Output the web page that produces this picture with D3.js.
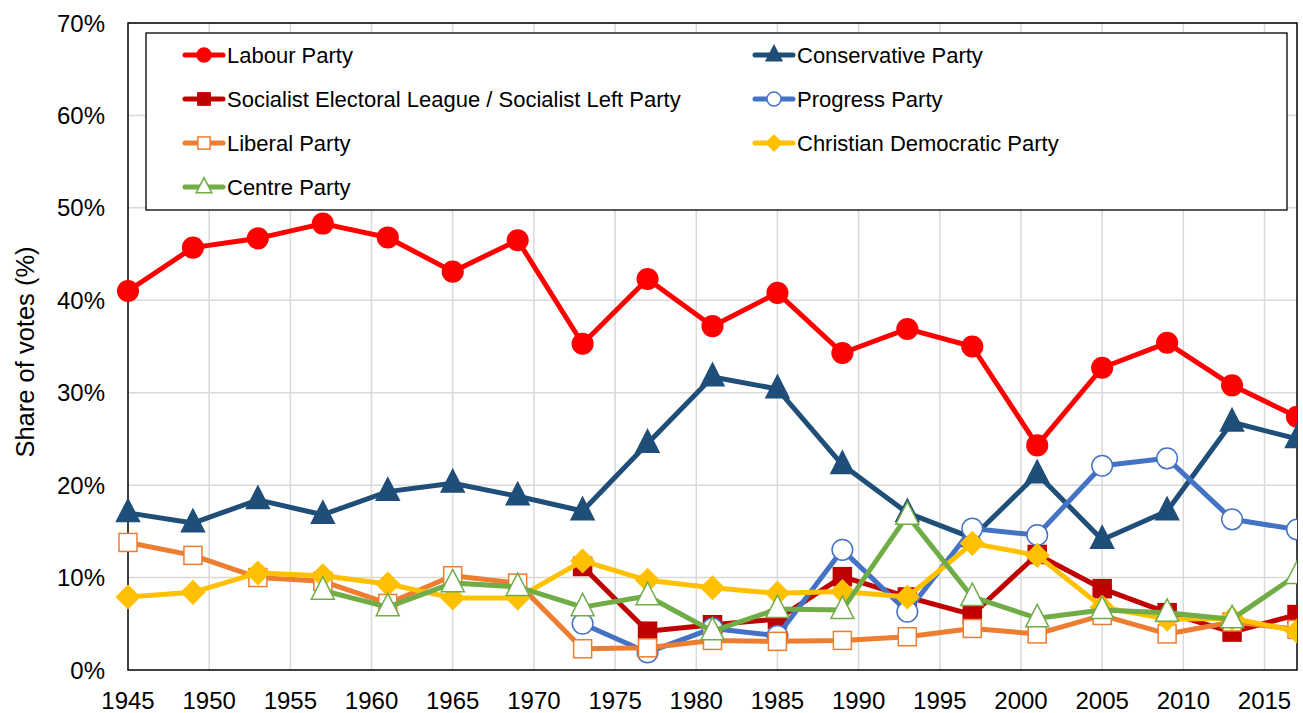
<!DOCTYPE html>
<html>
<head>
<meta charset="utf-8">
<script src="https://cdn.jsdelivr.net/npm/d3@7"></script>
<style>
  body { margin: 0; background: #fff; }
  svg { font-family: "Liberation Sans", Arial, sans-serif; }
</style>
</head>
<body>
<svg id="chart" width="1303" height="713"></svg>
<script>
// election years and vote shares (%)
var years = [1945, 1949, 1953, 1957, 1961, 1965, 1969, 1973, 1977, 1981, 1985, 1989, 1993, 1997, 2001, 2005, 2009, 2013, 2017];
var labour = [41.0, 45.7, 46.7, 48.3, 46.8, 43.1, 46.5, 35.3, 42.3, 37.2, 40.8, 34.3, 36.9, 35.0, 24.3, 32.7, 35.4, 30.8, 27.4];
var conservative = [17.0, 15.9, 18.4, 16.8, 19.3, 20.2, 18.8, 17.2, 24.5, 31.7, 30.4, 22.2, 17.0, 14.3, 21.2, 14.1, 17.2, 26.8, 25.0];
var socialistLeft = [null, null, null, null, null, null, null, 11.2, 4.2, 4.9, 5.5, 10.1, 7.9, 6.0, 12.5, 8.8, 6.2, 4.1, 6.0];
var progress = [null, null, null, null, null, null, null, 5.0, 1.9, 4.5, 3.7, 13.0, 6.3, 15.3, 14.6, 22.1, 22.9, 16.3, 15.2];
var liberal = [13.8, 12.4, 10.0, 9.6, 7.2, 10.2, 9.4, 2.3, 2.4, 3.2, 3.1, 3.2, 3.6, 4.5, 3.9, 5.9, 3.9, 5.2, 4.4];
var christianDem = [7.9, 8.4, 10.5, 10.2, 9.3, 7.8, 7.8, 11.8, 9.7, 8.9, 8.3, 8.5, 7.9, 13.7, 12.4, 6.8, 5.5, 5.6, 4.2];
var centre = [null, null, null, 8.6, 6.8, 9.4, 9.0, 6.8, 8.0, 4.2, 6.6, 6.5, 16.7, 7.9, 5.6, 6.5, 6.2, 5.5, 10.3];
var xTicks = [1945, 1950, 1955, 1960, 1965, 1970, 1975, 1980, 1985, 1990, 1995, 2000, 2005, 2010, 2015];
var yTicks = [0, 10, 20, 30, 40, 50, 60, 70];

var series = [
  {name: "Labour Party", values: labour, color: "#FF0000", marker: "circle", fill: "#FF0000"},
  {name: "Conservative Party", values: conservative, color: "#1F4E79", marker: "triangle", fill: "#1F4E79"},
  {name: "Socialist Electoral League / Socialist Left Party", values: socialistLeft, color: "#C00000", marker: "square", fill: "#C00000"},
  {name: "Progress Party", values: progress, color: "#4472C4", marker: "circle", fill: "#fff"},
  {name: "Liberal Party", values: liberal, color: "#ED7D31", marker: "square", fill: "#fff"},
  {name: "Christian Democratic Party", values: christianDem, color: "#FFC000", marker: "diamond", fill: "#FFC000"},
  {name: "Centre Party", values: centre, color: "#70AD47", marker: "triangle", fill: "#fff"}
];

var svg = d3.select("#chart");
var m = {left: 128, right: 1297, top: 23, bottom: 670};

var x = d3.scaleLinear().domain([1945, 2017]).range([m.left, m.right]);
var y = d3.scaleLinear().domain([0, 70]).range([m.bottom, m.top]);

// grid
svg.append("g").selectAll("line").data(xTicks.slice(1)).join("line")
  .attr("x1", d => x(d)).attr("x2", d => x(d))
  .attr("y1", m.top).attr("y2", m.bottom)
  .attr("stroke", "#d9d9d9").attr("stroke-width", 1.5);
svg.append("g").selectAll("line").data(yTicks.slice(1)).join("line")
  .attr("x1", m.left).attr("x2", m.right)
  .attr("y1", d => y(d)).attr("y2", d => y(d))
  .attr("stroke", "#d9d9d9").attr("stroke-width", 1.5);

// plot border
svg.append("rect")
  .attr("x", m.left).attr("y", m.top)
  .attr("width", m.right - m.left).attr("height", m.bottom - m.top)
  .attr("fill", "none").attr("stroke", "#000").attr("stroke-width", 1.5);

// tick labels
svg.append("g").selectAll("text").data(yTicks).join("text")
  .attr("x", 105).attr("y", d => y(d) + 8.5)
  .attr("text-anchor", "end").attr("font-size", 24).attr("fill", "#000")
  .text(d => d + "%");
svg.append("g").selectAll("text").data(xTicks).join("text")
  .attr("x", d => x(d)).attr("y", 709)
  .attr("text-anchor", "middle").attr("font-size", 24).attr("fill", "#000")
  .text(d => d);

svg.append("text")
  .attr("transform", "translate(34,352) rotate(-90)")
  .attr("text-anchor", "middle").attr("font-size", 25.5).attr("fill", "#000")
  .text("Share of votes (%)");

// legend box
svg.append("rect")
  .attr("x", 146).attr("y", 33).attr("width", 1141).attr("height", 177)
  .attr("fill", "#fff").attr("stroke", "#000").attr("stroke-width", 1.3);

svg.append("defs").append("clipPath").attr("id", "clip")
  .append("rect").attr("x", 0).attr("y", 0).attr("width", m.right).attr("height", 713);

function drawMarker(g, s, cx, cy, big) {
  var k = big ? 1 : 0.68;
  var el;
  if (s.marker === "circle") {
    el = g.append("circle").attr("cx", cx).attr("cy", cy).attr("r", 10.3 * k);
  } else if (s.marker === "square") {
    var h = 9 * k;
    el = g.append("rect").attr("x", cx - h).attr("y", cy - h).attr("width", 2 * h).attr("height", 2 * h);
  } else if (s.marker === "triangle") {
    var t = 11.5 * k;
    el = g.append("path").attr("d", "M" + cx + "," + (cy - t * 1.2) + "L" + (cx + t) + "," + (cy + t * 0.75) + "L" + (cx - t) + "," + (cy + t * 0.75) + "Z");
  } else {
    var dm = 11.5 * k;
    el = g.append("path").attr("d", "M" + cx + "," + (cy - dm) + "L" + (cx + dm) + "," + cy + "L" + cx + "," + (cy + dm) + "L" + (cx - dm) + "," + cy + "Z");
  }
  el.attr("fill", s.fill).attr("stroke", s.color).attr("stroke-width", 1.5);
}

var plot = svg.append("g").attr("clip-path", "url(#clip)");
var line = d3.line().defined(d => d[1] != null).x(d => x(d[0])).y(d => y(d[1]));

series.forEach(function(s) {
  var pts = years.map((yr, i) => [yr, s.values[i]]);
  var g = plot.append("g");
  g.append("path").datum(pts).attr("d", line)
    .attr("fill", "none").attr("stroke", s.color).attr("stroke-width", 5)
    .attr("stroke-linejoin", "round");
  pts.filter(p => p[1] != null).forEach(p => drawMarker(g, s, x(p[0]), y(p[1]), true));
});

// legend entries
series.forEach(function(s, i) {
  var col = i % 2, row = Math.floor(i / 2);
  var lx = col === 0 ? 185 : 755;
  var ly = 55 + row * 44;
  var g = svg.append("g");
  g.append("line").attr("x1", lx).attr("x2", lx + 38).attr("y1", ly).attr("y2", ly)
    .attr("stroke", s.color).attr("stroke-width", 5).attr("stroke-linecap", "round");
  drawMarker(g, s, lx + 19, ly, false);
  g.append("text").attr("x", lx + 42).attr("y", ly + 8)
    .attr("font-size", 22).attr("fill", "#000").text(s.name);
});
</script>
</body>
</html>
